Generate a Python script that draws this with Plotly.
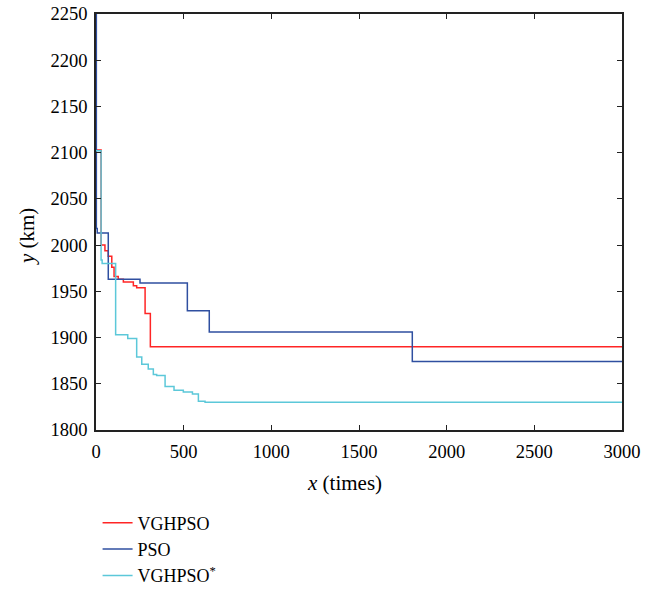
import plotly.graph_objects as go

# ---- data ----
vghpso_x = [0, 29, 51, 70, 90, 103, 127, 156, 213, 232, 280, 310, 3000]
vghpso_y = [2103, 2000, 1994, 1988, 1976, 1966, 1963, 1960, 1956, 1954, 1926, 1890, 1890]

pso_x = [0, 2, 7, 70, 251, 521, 646, 1804, 3000]
pso_y = [2300, 2018, 2013, 1963, 1959, 1929, 1906, 1874, 1874]

vghpso_star_x = [0, 29, 35, 112, 181, 232, 261, 298, 327, 346, 394, 445, 498, 550, 584, 622, 3000]
vghpso_star_y = [2102, 1984, 1980, 1903, 1899, 1879, 1871, 1866, 1860, 1859, 1847, 1843, 1841, 1839, 1831, 1830, 1830]

x_ticks = [0, 500, 1000, 1500, 2000, 2500, 3000]
y_ticks = [1800, 1850, 1900, 1950, 2000, 2050, 2100, 2150, 2200, 2250]

FONT = "Liberation Serif"

fig = go.Figure()
fig.add_trace(go.Scatter(x=vghpso_x, y=vghpso_y, mode="lines", line_shape="hv",
                         name="VGHPSO", line=dict(color="#FF2525", width=1.5)))
fig.add_trace(go.Scatter(x=pso_x, y=pso_y, mode="lines", line_shape="hv",
                         name="PSO", line=dict(color="#2F4FA0", width=1.5)))
fig.add_trace(go.Scatter(x=vghpso_star_x, y=vghpso_star_y, mode="lines", line_shape="hv",
                         name="VGHPSO<sup>*</sup>", line=dict(color="#5CC8D9", width=1.5)))

axis_common = dict(showline=True, linecolor="#222", linewidth=1.5, mirror="ticks",
                   ticks="inside", ticklen=5, tickcolor="#222", tickwidth=1,
                   showgrid=False, zeroline=False, ticklabeloverflow="allow",
                   tickfont=dict(family=FONT, size=18.5, color="black"))

fig.update_xaxes(range=[0, 3000], tickvals=x_ticks, ticktext=[str(v) for v in x_ticks],
                 ticklabelstandoff=4, **axis_common)
fig.update_yaxes(range=[1800, 2250], tickvals=y_ticks, ticktext=[str(v) for v in y_ticks],
                 ticklabelstandoff=3, **axis_common)

fig.update_layout(
    width=659, height=590,
    margin=dict(l=96, r=37, t=14, b=160, autoexpand=False),
    paper_bgcolor="white", plot_bgcolor="white",
    font=dict(family=FONT, size=18.5, color="black"),
    showlegend=True,
    legend=dict(x=0.003, xanchor="left", y=-0.179, yanchor="top",
                bgcolor="rgba(0,0,0,0)", font=dict(family=FONT, size=18, color="black")),
    annotations=[
        dict(text="<i>x</i> (times)", xref="paper", yref="paper", x=0.473, y=-0.127,
             xanchor="center", yanchor="middle", showarrow=False,
             font=dict(family=FONT, size=21, color="black")),
        dict(text="<i>y</i> (km)", xref="paper", yref="paper", x=-0.131, y=0.464,
             xanchor="center", yanchor="middle", showarrow=False, textangle=-90,
             font=dict(family=FONT, size=21, color="black")),
    ],
)

fig.write_html("out.html", config={"displayModeBar": False},
               post_script="document.body.style.margin='0px';")
